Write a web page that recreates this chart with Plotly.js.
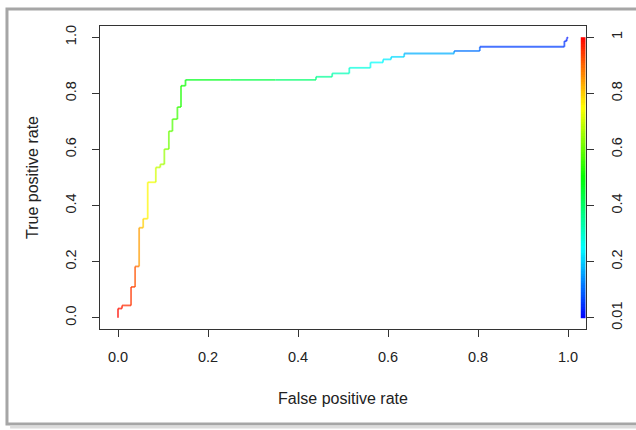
<!DOCTYPE html>
<html><head><meta charset="utf-8">
<script src="https://cdn.plot.ly/plotly-3.0.1.min.js"></script>
<style>html,body{margin:0;padding:0;background:#fff}#chart{width:636px;height:430px}</style>
</head><body><div id="chart"></div>
<script>
// ROC curve points
const fpr = [0,0,0.009,0.009,0.029,0.029,0.038,0.038,0.047,0.047,0.056,0.056,0.066,0.066,0.084,0.084,0.094,0.094,0.103,0.103,0.113,0.113,0.121,0.121,0.132,0.132,0.140,0.140,0.150,0.150,0.25,0.35,0.44,0.44,0.476,0.476,0.514,0.514,0.561,0.561,0.589,0.589,0.607,0.607,0.636,0.636,0.747,0.747,0.804,0.804,0.992,0.992,0.997,0.997,1.0];
const tpr = [0,0.033,0.033,0.044,0.044,0.11,0.11,0.183,0.183,0.321,0.321,0.353,0.353,0.483,0.483,0.536,0.536,0.547,0.547,0.601,0.601,0.665,0.665,0.708,0.708,0.751,0.751,0.827,0.827,0.848,0.848,0.848,0.848,0.859,0.859,0.871,0.871,0.891,0.891,0.910,0.910,0.921,0.921,0.930,0.930,0.942,0.942,0.951,0.951,0.966,0.966,0.986,0.986,0.995,1.0];
// cutoff value at each point (estimated from the line colours)
const cutoff = [1.0,0.99,0.98,0.97,0.96,0.95,0.94,0.92,0.90,0.85,0.82,0.80,0.78,0.76,0.74,0.71,0.69,0.68,0.67,0.65,0.63,0.61,0.60,0.58,0.57,0.56,0.55,0.53,0.52,0.51,0.48,0.44,0.40,0.38,0.36,0.35,0.33,0.31,0.29,0.27,0.26,0.25,0.24,0.23,0.22,0.21,0.18,0.17,0.12,0.11,0.07,0.06,0.05,0.04,0.03];
const axisTickVals = [0,0.2,0.4,0.6,0.8,1];
const axisTickText = ['0.0','0.2','0.4','0.6','0.8','1.0'];
const keyTickText = ['0.01','0.2','0.4','0.6','0.8','1'];
const cutMin = 0.01, cutMax = 1;

function hsvColor(h){
  const c = 1, x = 1 - Math.abs((h/60)%2 - 1);
  let r,g,b;
  if(h<60){r=c;g=x;b=0;} else if(h<120){r=x;g=c;b=0;} else if(h<180){r=0;g=c;b=x;}
  else if(h<240){r=0;g=x;b=c;} else {r=x;g=0;b=c;}
  return 'rgb('+Math.round(r*255)+','+Math.round(g*255)+','+Math.round(b*255)+')';
}
function colorFor(c){
  const n = Math.max(0, Math.min(1, (c-cutMin)/(cutMax-cutMin)));
  return hsvColor((1-n)*240);
}

const traces = [];
for(let i=1;i<fpr.length;i++){
  traces.push({x:[fpr[i-1],fpr[i]], y:[tpr[i-1],tpr[i]], mode:'lines', type:'scatter',
    line:{color:colorFor(cutoff[i]), width:1.8}, opacity:0.72, hoverinfo:'skip', showlegend:false});
}
// colour key
const N = 120, keyY = [], keyZ = [];
for(let k=0;k<N;k++){ keyY.push((k+0.5)/N); keyZ.push([cutMin+(cutMax-cutMin)*(k+0.5)/N]); }
const cs = [];
for(let k=0;k<=12;k++){ const t=k/12; cs.push([t, colorFor(cutMin+t*(cutMax-cutMin))]); }
traces.push({type:'heatmap', x:[0], y:keyY, z:keyZ, xaxis:'x2', yaxis:'y2', colorscale:cs,
  zmin:cutMin, zmax:cutMax, showscale:false, hoverinfo:'skip'});

const tickFont = {family:'"Liberation Sans", Arial, sans-serif', size:14.5, color:'#222'};
const titleFont = {family:'"Liberation Sans", Arial, sans-serif', size:16, color:'#222'};
const layout = {
  width:636, height:430, margin:{l:100,r:50,t:26,b:101},
  paper_bgcolor:'#fff', plot_bgcolor:'rgba(0,0,0,0)', font:tickFont, showlegend:false,
  xaxis:{range:[-0.04,1.04], domain:[0,1], tickvals:axisTickVals, ticktext:axisTickText, ticks:'outside', ticklen:7,
    tickcolor:'#333', showline:true, mirror:true, linecolor:'#333', linewidth:1, showgrid:false, zeroline:false,
    tickfont:tickFont, ticklabelstandoff:8, title:{text:'False positive rate', font:titleFont, standoff:28}},
  yaxis:{range:[-0.04,1.04], tickvals:axisTickVals, ticktext:axisTickText, ticks:'outside', ticklen:7,
    tickcolor:'#333', showline:true, mirror:true, linecolor:'#333', linewidth:1, showgrid:false, zeroline:false,
    tickfont:tickFont, tickangle:-90, ticklabelstandoff:10, title:{text:'True positive rate', font:titleFont, standoff:20}},
  xaxis2:{domain:[0.9887,1], range:[-0.5,0.5], anchor:'y2', visible:false},
  yaxis2:{domain:[0,1], range:[-0.04,1.04], anchor:'x2', side:'right', tickvals:axisTickVals, ticktext:keyTickText,
    ticks:'outside', ticklen:7, tickcolor:'#333', showline:false, showgrid:false, zeroline:false,
    tickfont:tickFont, tickangle:-90, ticklabelstandoff:11},
  shapes:[
    {type:'rect', xref:'paper', yref:'paper', x0:-0.1914, x1:1.12, y0:-0.3135, y1:1.056,
     line:{color:'#a6a6a6', width:3}, fillcolor:'rgba(0,0,0,0)', layer:'below'},
    {type:'line', xref:'paper', yref:'paper', x0:-0.185, x1:1.12, y0:-0.3234, y1:-0.3234,
     line:{color:'#dcdcdc', width:3}, layer:'below'}
  ]
};
Plotly.newPlot('chart', traces, layout, {staticPlot:true, displayModeBar:false});
</script></body></html>
